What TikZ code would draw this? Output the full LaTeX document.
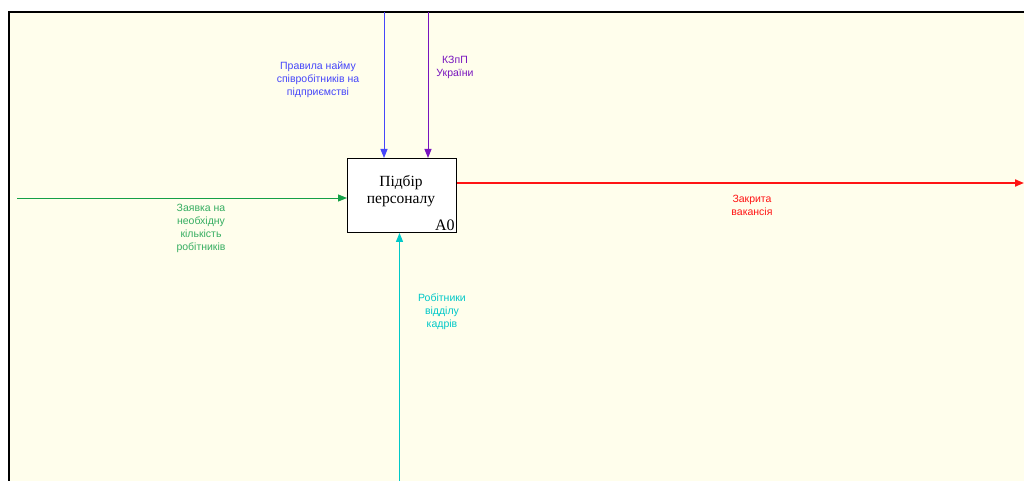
\documentclass[tikz,border=0pt]{standalone}
\usepackage{fontspec}
\setmainfont{Liberation Serif}
\newfontfamily\lab{Liberation Sans}
\usetikzlibrary{arrows.meta}
\definecolor{bg}{RGB}{255,254,236}
\definecolor{cblue}{RGB}{70,70,250}
\definecolor{cpurple}{RGB}{120,20,190}
\definecolor{cgreen}{RGB}{20,160,70}
\definecolor{ccyan}{RGB}{0,200,200}
\definecolor{cred}{RGB}{255,20,20}
\tikzset{
  lbl/.style={font=\lab\fontsize{10.5}{13}\selectfont, align=center, inner sep=0pt},
  arr/.style={-{Triangle[length=9pt,width=7pt]}, line width=1pt},
}
\begin{document}
\begin{tikzpicture}[x=1pt,y=-1pt]
\useasboundingbox (0,0) rectangle (1024,481);
\fill[white] (0,0) rectangle (1024,481);
\fill[bg] (9,12) rectangle (1024,481);
\draw[line width=2pt] (9,481) -- (9,12) -- (1024,12);
\node[draw, line width=0.9pt, fill=white, minimum width=109pt, minimum height=74pt, inner sep=0pt, anchor=north west] (a0) at (347,158) {};
\node[align=center, font=\fontsize{15.5}{17.5}\selectfont] (t) at (401,191) {Підбір\\персоналу};
\node[anchor=south east, font=\fontsize{16}{16}\selectfont, inner sep=2pt] (id) at (a0.south east) {A0};
\coordinate (bt) at (384,12);
\coordinate (pt) at (428,12);
\coordinate (gl) at (17,198);
\coordinate (rr) at (1024,183);
\coordinate (cb) at (399.5,481);
\draw[arr, cblue] (bt) -- (bt |- a0.north);
\draw[arr, cpurple] (pt) -- (pt |- a0.north);
\draw[arr, cgreen] (gl) -- (gl -| a0.west);
\draw[arr, cred, line width=1.8pt] (rr -| a0.east) -- (rr);
\draw[arr, ccyan] (cb) -- (cb |- a0.south);
\node[lbl, text=cblue] (lb) at (318,80) {Правила найму\\співробітників на\\підприємстві};
\node[lbl, text=cpurple] (lp) at (455,67) {КЗпП\\України};
\node[lbl, text=cgreen!85!white] (lg) at (201,228) {Заявка на\\необхідну\\кількість\\робітників};
\node[lbl, text=ccyan] (lc) at (442,312) {Робітники\\відділу\\кадрів};
\node[lbl, text=cred] (lr) at (752,205) {Закрита\\вакансія};
\end{tikzpicture}
\end{document}
